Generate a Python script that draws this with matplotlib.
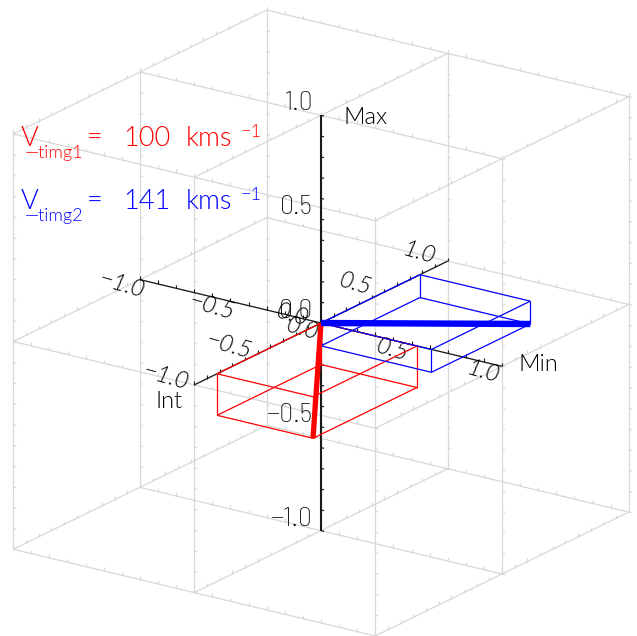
import numpy as np
import matplotlib
matplotlib.use("Agg")
import matplotlib.pyplot as plt
from matplotlib.collections import LineCollection

# ---------------- data ----------------
axis_names = ["Min", "Int", "Max"]
vec_timg1 = [0.53, -0.82, -0.20]    # (Min, Int, Max) components
vec_timg2 = [0.61, 0.78, -0.11]
vec_names = ["timg1", "timg2"]
speeds = [100, 141]
speed_unit = "kms"
major_ticks = [-1.0, -0.5, 0.0, 0.5, 1.0]
major_labels = ["\u22121.0", "\u22120.5", "0.0", "0.5", "1.0"]
grid_levels = [-1.0, 0.0, 1.0]
minor_step = 0.1
vec_colors = ["#ff0000", "#0000ff"]

# ---------------- view (orthographic, IDL-like T3D) ----------------
ELEV, AZ = 20.0, 35.0
SCALE = 221.0
CENTER = (321.0, 323.0)
W, H = 637, 636
GRAY = "#d8d8d8"
NUM_FONT = ["Barlow Semi Condensed", "DejaVu Sans"]
TXT_FONT = ["Lato", "DejaVu Sans"]


def proj(p):
    p = np.atleast_2d(np.asarray(p, float))
    m, i, z = p[:, 0], p[:, 1], p[:, 2]
    e, a = np.radians(ELEV), np.radians(AZ)
    u = SCALE * (m * np.cos(a) + i * np.sin(a))
    v = SCALE * (z * np.cos(e) + (-m * np.sin(a) + i * np.cos(a)) * np.sin(e))
    return np.column_stack([CENTER[0] + u, CENTER[1] - v])


TICK_LEN = 0.017
tick_dir = {0: np.array([0.0, 0.0, 1.0]),   # ticks of Min-lines point along Max
            1: np.array([0.0, 0.0, 1.0]),   # ticks of Int-lines point along Max
            2: np.array([1.0, 0.0, 0.0])}   # ticks of Max-lines point along Min
minor_vals = np.round(np.arange(-1.0, 1.0 + 1e-9, minor_step), 6)


def axis_line(d, a_val, b_val):
    others = [k for k in range(3) if k != d]
    p0 = np.zeros(3)
    p0[others[0]] = a_val
    p0[others[1]] = b_val
    p1 = p0.copy()
    p0[d], p1[d] = -1.0, 1.0
    line = proj([p0, p1])
    ticks = []
    for t in minor_vals:
        q = p0.copy()
        q[d] = t
        ticks.append(proj([q, q + TICK_LEN * tick_dir[d]]))
    return line, ticks


def box_edges(v):
    v = np.asarray(v, float)
    segs = []
    for bits in np.ndindex(2, 2, 2):
        c0 = np.array(bits, float) * v
        for k in range(3):
            if bits[k] == 0:
                b2 = list(bits)
                b2[k] = 1
                c1 = np.array(b2, float) * v
                segs.append(proj([c0, c1]))
    return segs


fig = plt.figure(figsize=(W / 100, H / 100), dpi=100)
ax = fig.add_axes([0, 0, 1, 1])
ax.set_xlim(0, W)
ax.set_ylim(H, 0)
ax.axis("off")

# ---- gray 3x3 lattice with minor ticks ----
gray_lines, gray_ticks = [], []
for d in range(3):
    for a_val in grid_levels:
        for b_val in grid_levels:
            line, ticks = axis_line(d, a_val, b_val)
            gray_lines.append(line)
            gray_ticks.extend(ticks)
ax.add_collection(LineCollection(gray_lines, colors=GRAY, linewidths=0.9, zorder=1))
ax.add_collection(LineCollection(gray_ticks, colors=GRAY, linewidths=0.8, zorder=1))

# ---- black axes through the origin ----
for d, lw in ((0, 0.9), (1, 0.9), (2, 1.5)):
    line, ticks = axis_line(d, 0.0, 0.0)
    ax.add_collection(LineCollection([line], colors="#1a1a1a", linewidths=lw, zorder=2))
    ax.add_collection(LineCollection(ticks, colors="#1a1a1a", linewidths=0.8, zorder=2))

# Max axis labels (upright)
for t, lab in zip(major_ticks, major_labels):
    xy = proj([0.0, 0.0, t])[0]
    ax.annotate(lab, xy=xy, xytext=(-8, 5), textcoords="offset pixels",
                ha="right", va="baseline", fontsize=20, family=NUM_FONT,
                fontweight=250, color="black", zorder=3)

# Min and Int axis labels (slanted, lying in the horizontal plane)
slant_kw = dict(textcoords="offset pixels", ha="center", va="center", rotation=-16,
                rotation_mode="anchor", fontsize=17, family=TXT_FONT, fontweight=300,
                fontstyle="italic", color="black", zorder=3)
for t, lab in zip(major_ticks, major_labels):
    ax.annotate(lab, xy=proj([t, 0.0, 0.0])[0], xytext=(-19, -6), **slant_kw)
    ax.annotate(lab, xy=proj([0.0, t, 0.0])[0], xytext=(-29, 8), **slant_kw)

# axis names
name_kw = dict(textcoords="offset pixels", va="baseline", fontsize=17, family=TXT_FONT,
               fontweight=300, color="black", zorder=3)
ax.annotate(axis_names[2], xy=proj([0, 0, 1.0])[0], xytext=(22, -9), ha="left", **name_kw)
ax.annotate(axis_names[0], xy=proj([1.0, 0, 0])[0], xytext=(16, -5), ha="left", **name_kw)
ax.annotate(axis_names[1], xy=proj([0, -1.0, 0])[0], xytext=(-12, -23), ha="right", **name_kw)

# ---- component boxes and vectors ----
for vec, col in zip([vec_timg1, vec_timg2], vec_colors):
    ax.add_collection(LineCollection(box_edges(vec), colors=col, linewidths=0.9, zorder=4))
for vec, col, lw in zip([vec_timg1, vec_timg2], vec_colors, [3.8, 4.6]):
    pts = proj([[0.0, 0.0, 0.0], vec])
    ax.plot(pts[:, 0], pts[:, 1], color=col, lw=lw, solid_capstyle="butt", zorder=5)

# ---- speed annotations ----
for row, (name, spd, col) in enumerate(zip(vec_names, speeds, vec_colors)):
    base = 146 + 63 * row
    kw = dict(color=col, family=TXT_FONT, fontweight=300, ha="left", va="baseline", zorder=6)
    ax.text(21, base, "V", fontsize=19.5, **kw)
    ax.text(25, base + 12, "\u2014" + name, fontsize=13, **kw)
    ax.text(87, base, "=", fontsize=19.5, **kw)
    ax.text(123, base, f"{spd}", fontsize=19.5, **kw)
    ax.text(186, base, speed_unit, fontsize=19.5, **kw)
    ax.text(241, base - 9, "\u22121", fontsize=13, **kw)

fig.savefig("out.png", dpi=100)
